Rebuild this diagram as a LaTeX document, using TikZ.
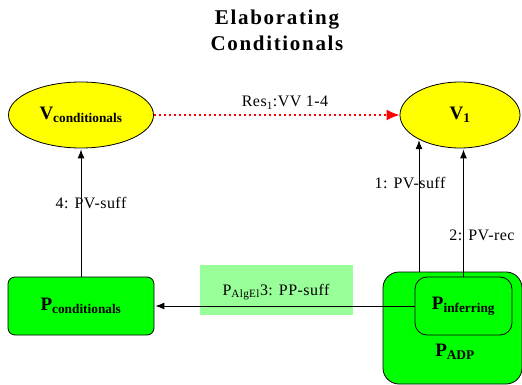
\documentclass[tikz,border=0pt]{standalone}
\usepackage{fontspec}
\setmainfont{Liberation Serif}
\usetikzlibrary{arrows.meta,shapes.geometric}
\definecolor{vyellow}{HTML}{FFFF00}
\definecolor{pgreen}{HTML}{00FF00}
\definecolor{lgreen}{HTML}{99FF99}
\begin{document}
\begin{tikzpicture}[x=1pt,y=-1pt,
 vell/.style ={ellipse, draw=black, thick, fill=vyellow, inner sep=0pt, minimum height=66pt, font=\fontsize{19}{21}\selectfont\bfseries},
 pbox/.style ={rectangle, draw=black, thick, fill=pgreen, rounded corners=7pt, minimum height=58pt, inner sep=0pt, font=\fontsize{19}{21}\selectfont\bfseries},
 lbl/.style ={font=\fontsize{16}{18}\selectfont\addfontfeature{LetterSpace=3}, inner sep=1pt},
 line/.style ={draw, line width=1pt, -{Latex[length=9pt,width=7pt]}, shorten >=1pt},
 dotline/.style ={draw=red, line width=1.8pt, dash pattern=on 2.5pt off 2.5pt, -{Latex[length=13pt,width=11pt]}}]

\useasboundingbox (0,0) rectangle (522,385);

\draw (277,30) node[align=center, font=\fontsize{21}{26}\selectfont\bfseries\addfontfeature{LetterSpace=8}] (Ttl) {Elaborating\\Conditionals};

\draw (81,115) node[vell, minimum width=145pt] (Vc) {V\textsubscript{conditionals}};
\draw (460,115) node[vell, minimum width=120pt] (V1) {V\textsubscript{1}};

\draw (276,290) node[fill=lgreen, minimum width=153pt, minimum height=50pt, inner sep=0pt] (Lab) {};
\draw (276,292) node[lbl] (Labt) {P\textsubscript{AlgEl}3: PP-suff};

\draw (81,306) node[pbox, minimum width=146pt] (Pc) {P\textsubscript{conditionals}};
\draw (452.5,328) node[pbox, rounded corners=16pt, minimum width=139pt, minimum height=112pt] (PADP) {};
\draw (463.5,306) node[pbox, rounded corners=12pt, minimum width=97pt] (Pinf) {P\textsubscript{inferring}};
\draw (455,352) node[font=\fontsize{19}{21}\selectfont\bfseries] (Padpt) {P\textsubscript{ADP}};

\coordinate (s1) at (419,272);

	\draw [dotline] (Vc.east) to (V1.west);
	\draw (285,103) node[lbl] (Res) {Res\textsubscript{1}:VV 1-4};

	\draw [line] (Pc.north) to (Vc.south);
	\draw (91,203) node[lbl] (L4) {4: PV-suff};

	\draw [line] (s1) to (s1 |- V1.210);
	\draw (410,183) node[lbl] (L1) {1: PV-suff};

	\draw [line] (Pinf.north) to (Pinf.north |- V1.south);
	\draw (482,235) node[lbl] (L2) {2: PV-rec};

	\draw [line] (Pinf.west) to (Pc.east);

\end{tikzpicture}
\end{document}
